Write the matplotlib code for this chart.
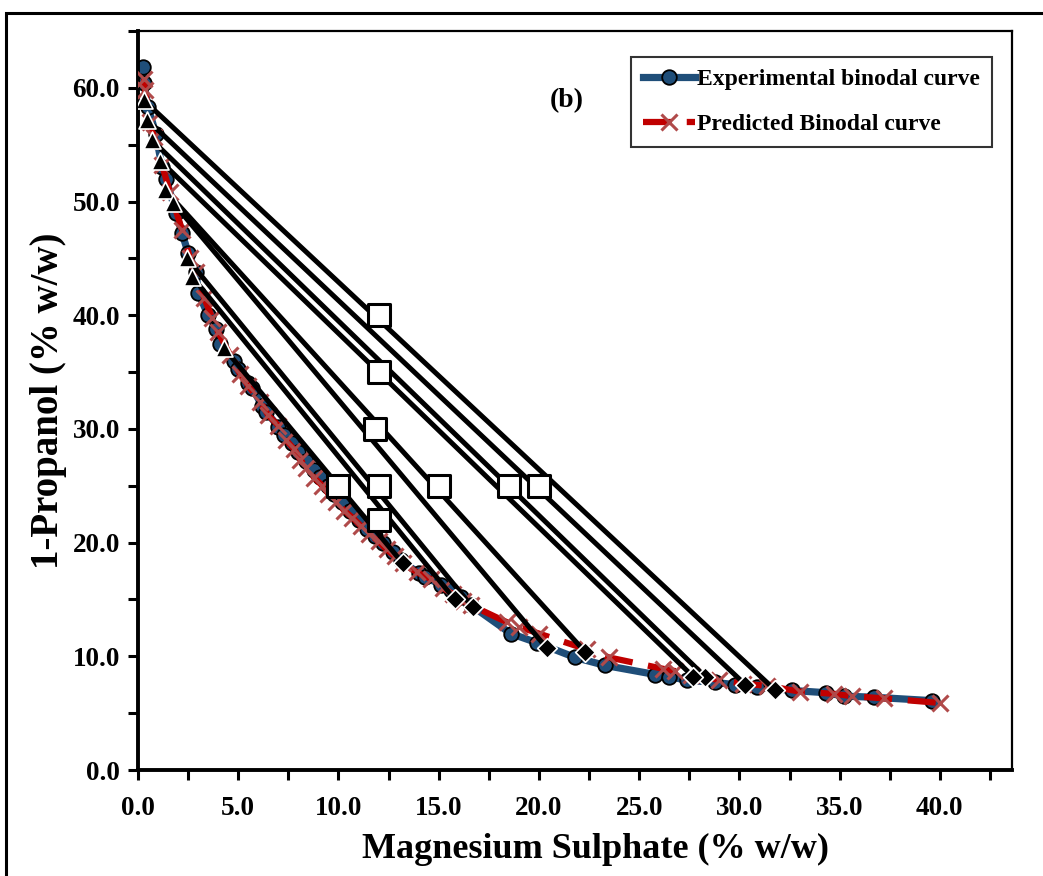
import matplotlib
matplotlib.use('Agg')
import matplotlib.pyplot as plt
from matplotlib.patches import Rectangle
from matplotlib.ticker import MultipleLocator, FormatStrFormatter

# Experimental binodal curve
exp_x = [0.25, 0.3, 0.5, 0.9, 1.2, 1.4, 1.9, 2.2, 2.5, 2.9, 3.0, 3.5, 3.9, 4.1, 4.8, 5.0,
         5.5, 5.7, 6.2, 6.4, 7.0, 7.3, 7.7, 8.0, 8.4, 8.8, 9.1, 9.5, 9.8, 10.2, 10.6, 11.0,
         11.4, 11.8, 12.2, 12.7, 13.1, 14.0, 14.3, 15.1, 15.6, 16.1, 16.6, 18.6, 19.9, 21.8,
         23.3, 25.8, 26.5, 27.4, 28.8, 29.8, 30.9, 32.6, 34.3, 35.2, 36.7, 39.6]
exp_y = [61.8, 60.4, 58.3, 55.9, 53.0, 52.0, 49.0, 47.2, 45.5, 43.8, 42.0, 40.0, 38.8, 37.5, 36.0, 35.3,
         34.0, 33.6, 32.0, 31.5, 30.2, 29.5, 28.8, 28.0, 27.2, 26.4, 25.8, 25.0, 24.3, 23.6, 22.8, 22.0,
         21.2, 20.6, 20.0, 19.2, 18.5, 17.3, 17.0, 16.3, 15.8, 15.2, 14.5, 12.0, 11.2, 9.9,
         9.2, 8.4, 8.2, 7.9, 7.7, 7.5, 7.3, 7.0, 6.8, 6.5, 6.4, 6.1]

# Predicted binodal curve
pred_x = [0.3, 0.35, 0.6, 0.8, 1.2, 1.6, 2.2, 2.6, 2.9, 3.3, 3.7, 4.0, 4.6, 5.1, 5.5, 6.1,
          6.5, 7.0, 7.4, 7.8, 8.1, 8.4, 8.8, 9.2, 9.5, 9.9, 10.3, 10.7, 11.1, 11.5, 12.0, 12.4,
          12.8, 13.2, 13.9, 14.6, 15.2, 15.7, 16.2, 16.6, 18.4, 19.0, 20.0, 22.4, 23.5, 26.2,
          26.8, 27.6, 29.0, 30.2, 31.4, 33.0, 34.7, 35.6, 37.2, 40.0]
pred_y = [60.8, 59.8, 57.0, 55.7, 53.2, 50.8, 47.5, 45.0, 43.8, 41.5, 39.8, 38.5, 36.5, 34.8, 33.8, 32.4,
          31.2, 30.3, 29.0, 28.2, 27.3, 26.6, 25.7, 25.0, 24.3, 23.6, 22.8, 22.2, 21.5, 20.8, 20.1, 19.4,
          18.8, 18.2, 17.4, 16.8, 16.0, 15.5, 14.9, 14.5, 13.0, 12.6, 12.0, 10.6, 9.9, 8.9,
          8.7, 8.4, 7.9, 7.6, 7.4, 6.9, 6.7, 6.5, 6.3, 5.9]

# Tie lines: top phase, bottom phase and feed compositions
tie_top_x = [0.3, 0.45, 0.7, 1.1, 1.35, 1.75, 2.45, 2.7, 4.3]
tie_top_y = [58.9, 57.2, 55.4, 53.6, 51.0, 49.9, 45.0, 43.4, 37.1]
tie_bot_x = [31.8, 30.3, 28.3, 27.7, 22.3, 20.4, 16.7, 15.8, 13.2]
tie_bot_y = [7.0, 7.5, 8.2, 8.2, 10.4, 10.7, 14.3, 15.0, 18.2]
feed_x = [12.0, 20.0, 18.5, 12.0, 15.0, 11.8, 12.0, 12.0, 10.0]
feed_y = [40.0, 25.0, 25.0, 35.0, 25.0, 30.0, 25.0, 22.0, 25.0]

serif = ['Liberation Serif', 'DejaVu Serif']
plt.rcParams['font.family'] = serif
plt.rcParams['font.weight'] = 'bold'

fig = plt.figure(figsize=(10.43, 8.76), dpi=100)
ax = fig.add_axes([0.1323, 0.121, 0.838, 0.8436])

# outer chart border (cropped by the image edge)
fig.patches.append(Rectangle((0.006, -0.2), 1.5, 1.185, transform=fig.transFigure,
                             fill=False, edgecolor='black', linewidth=2.2, zorder=0))

ax.plot(exp_x, exp_y, color='#1F4E79', linewidth=5.2, marker='o', markersize=10.5,
        markerfacecolor='#1F4E79', markeredgecolor='black', markeredgewidth=1.3,
        label='Experimental binodal curve', zorder=2)
ax.plot(pred_x, pred_y, color='#C00000', linewidth=4.5, dashes=(4.5, 2.5),
        marker='x', markersize=11, markeredgecolor='#B04A4A', markeredgewidth=2.2,
        label='Predicted Binodal curve', zorder=3)

for i in range(len(tie_top_x)):
    ax.plot([tie_top_x[i], tie_bot_x[i]], [tie_top_y[i], tie_bot_y[i]], color='black',
            linewidth=3.6, solid_capstyle='butt', zorder=4)
ax.scatter(tie_top_x, tie_top_y, marker='^', s=150, color='black', edgecolors='white',
           linewidths=1.2, zorder=5)
ax.scatter(tie_bot_x, tie_bot_y, marker='D', s=100, color='black', edgecolors='white',
           linewidths=1.2, zorder=5)
ax.scatter(feed_x, feed_y, marker='s', s=230, color='white', edgecolors='black',
           linewidths=2.2, zorder=6)

ax.set_xlim(0, 43.6)
ax.set_ylim(0, 65)
ax.xaxis.set_minor_locator(MultipleLocator(2.5))
ax.yaxis.set_major_locator(MultipleLocator(10))
ax.yaxis.set_minor_locator(MultipleLocator(5))
ax.set_xticks([i * 5 for i in range(9)])
ax.xaxis.set_major_formatter(FormatStrFormatter('%.1f'))
ax.yaxis.set_major_formatter(FormatStrFormatter('%.1f'))
ax.tick_params(which='both', direction='out', length=7, width=2.2, labelsize=19.5, pad=6)
ax.tick_params(axis='x', pad=12)
for lab in ax.get_xticklabels() + ax.get_yticklabels():
    lab.set_fontweight('bold')

ax.spines['left'].set_linewidth(2.8)
ax.spines['bottom'].set_linewidth(2.8)
ax.spines['top'].set_linewidth(1.6)
ax.spines['right'].set_linewidth(1.6)

ax.set_xlabel('Magnesium Sulphate (% w/w)', fontsize=26, fontweight='bold', labelpad=10)
ax.xaxis.set_label_coords(0.524, -0.085)
ax.set_ylabel('1-Propanol (% w/w)', fontsize=28, fontweight='bold', labelpad=4)

ax.text(0.491, 0.906, '(b)', transform=ax.transAxes, fontsize=20, fontweight='bold',
        ha='center', va='center')

leg = ax.legend(loc='upper right', bbox_to_anchor=(0.977, 0.965),
                prop={'family': serif, 'weight': 'bold', 'size': 17},
                frameon=True, fancybox=False, edgecolor='black', handlelength=2.2,
                handletextpad=0.1, labelspacing=1.0, borderpad=0.5, borderaxespad=0)
leg.get_frame().set_linewidth(1.5)

fig.savefig('out.png', dpi=100)
